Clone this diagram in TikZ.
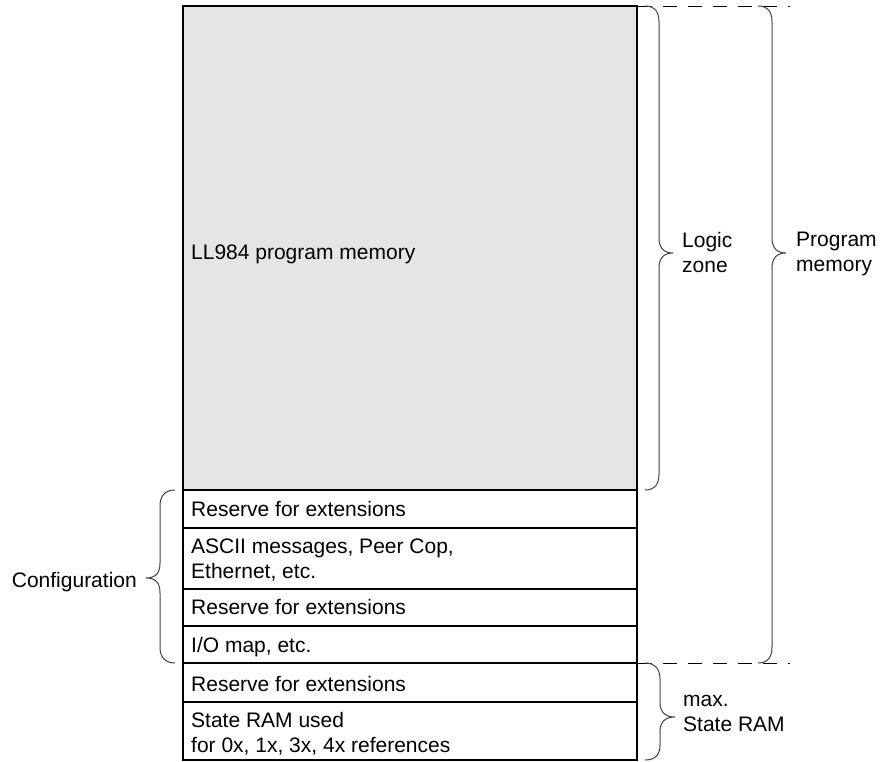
\documentclass[tikz,border=0pt]{standalone}
\usepackage{fontspec}
\setmainfont{Liberation Sans}
\begin{document}
\begin{tikzpicture}[x=1pt,y=-1pt,
  lbl/.style={anchor=base west,inner sep=0pt,font=\fontsize{21}{25}\selectfont},
  mlbl/.style={lbl,align=left},
  cell/.style={draw=black,line width=2pt},
  brace/.style={draw=black!75,line width=1pt},
  guide/.style={draw=black,line width=0.9pt,dash pattern=on 14pt off 11pt}]
\useasboundingbox (0,0) rectangle (886,762);
% memory blocks
\fill[black!10] (183,6) rectangle (637,490);
\draw[cell] (183,6) rectangle (637,760);
\draw[cell] (183,490) -- (637,490);
\draw[cell] (183,528) -- (637,528);
\draw[cell] (183,589) -- (637,589);
\draw[cell] (183,626) -- (637,626);
\draw[cell] (183,663) -- (637,663);
\draw[cell] (183,702) -- (637,702);
% dashed guides
\coordinate (gt1) at (638,6);  \coordinate (gt2) at (790,6);
\coordinate (gb1) at (638,663); \coordinate (gb2) at (790,663);
\draw[guide] (gt1) -- (gt2);
\draw[guide] (gb1) -- (gb2);
% texts
\node[lbl] (ll) at (191,259) {LL984 program memory};
\node[lbl] (r1) at (191,516) {Reserve for extensions};
\node[mlbl,anchor=north west] (asc) at (191,539) {ASCII messages, Peer Cop,\\Ethernet, etc.};
\node[lbl] (r2) at (191,614) {Reserve for extensions};
\node[lbl] (io) at (191,652) {I/O map, etc.};
\node[lbl] (r3) at (191,691) {Reserve for extensions};
\node[mlbl,anchor=north west] (st) at (191,712) {State RAM used\\for 0x, 1x, 3x, 4x references};
\node[mlbl,anchor=north west] (lz) at (682,232) {Logic\\zone};
\node[mlbl,anchor=north west] (pm) at (796,232) {Program\\memory};
\node[mlbl,anchor=north west] (sr) at (683,695) {max.\\State RAM};
\node[lbl,anchor=base east] (cf) at (137,587) {Configuration};
% braces
\draw[brace] (645,6) .. controls (655,6) and (659,12) .. (659,22) -- (659,238)
  .. controls (659,248) and (664,253) .. (673,253)
  .. controls (664,253) and (659,258) .. (659,268) -- (659,474)
  .. controls (659,484) and (655,490) .. (645,490);
\draw[brace] (758,6) .. controls (768,6) and (772,12) .. (772,22) -- (772,238)
  .. controls (772,248) and (777,253) .. (786,253)
  .. controls (777,253) and (772,258) .. (772,268) -- (772,647)
  .. controls (772,657) and (768,663) .. (758,663);
\draw[brace] (645,663) .. controls (655,663) and (660,669) .. (660,679) -- (660,702)
  .. controls (660,712) and (665,717) .. (675,717)
  .. controls (665,717) and (660,722) .. (660,732) -- (660,745)
  .. controls (660,755) and (655,760) .. (645,760);
\draw[brace] (175,490) .. controls (165,490) and (160,496) .. (160,506) -- (160,563)
  .. controls (160,573) and (156,578) .. (146,578)
  .. controls (156,578) and (160,583) .. (160,593) -- (160,647)
  .. controls (160,657) and (165,663) .. (175,663);
\end{tikzpicture}
\end{document}
